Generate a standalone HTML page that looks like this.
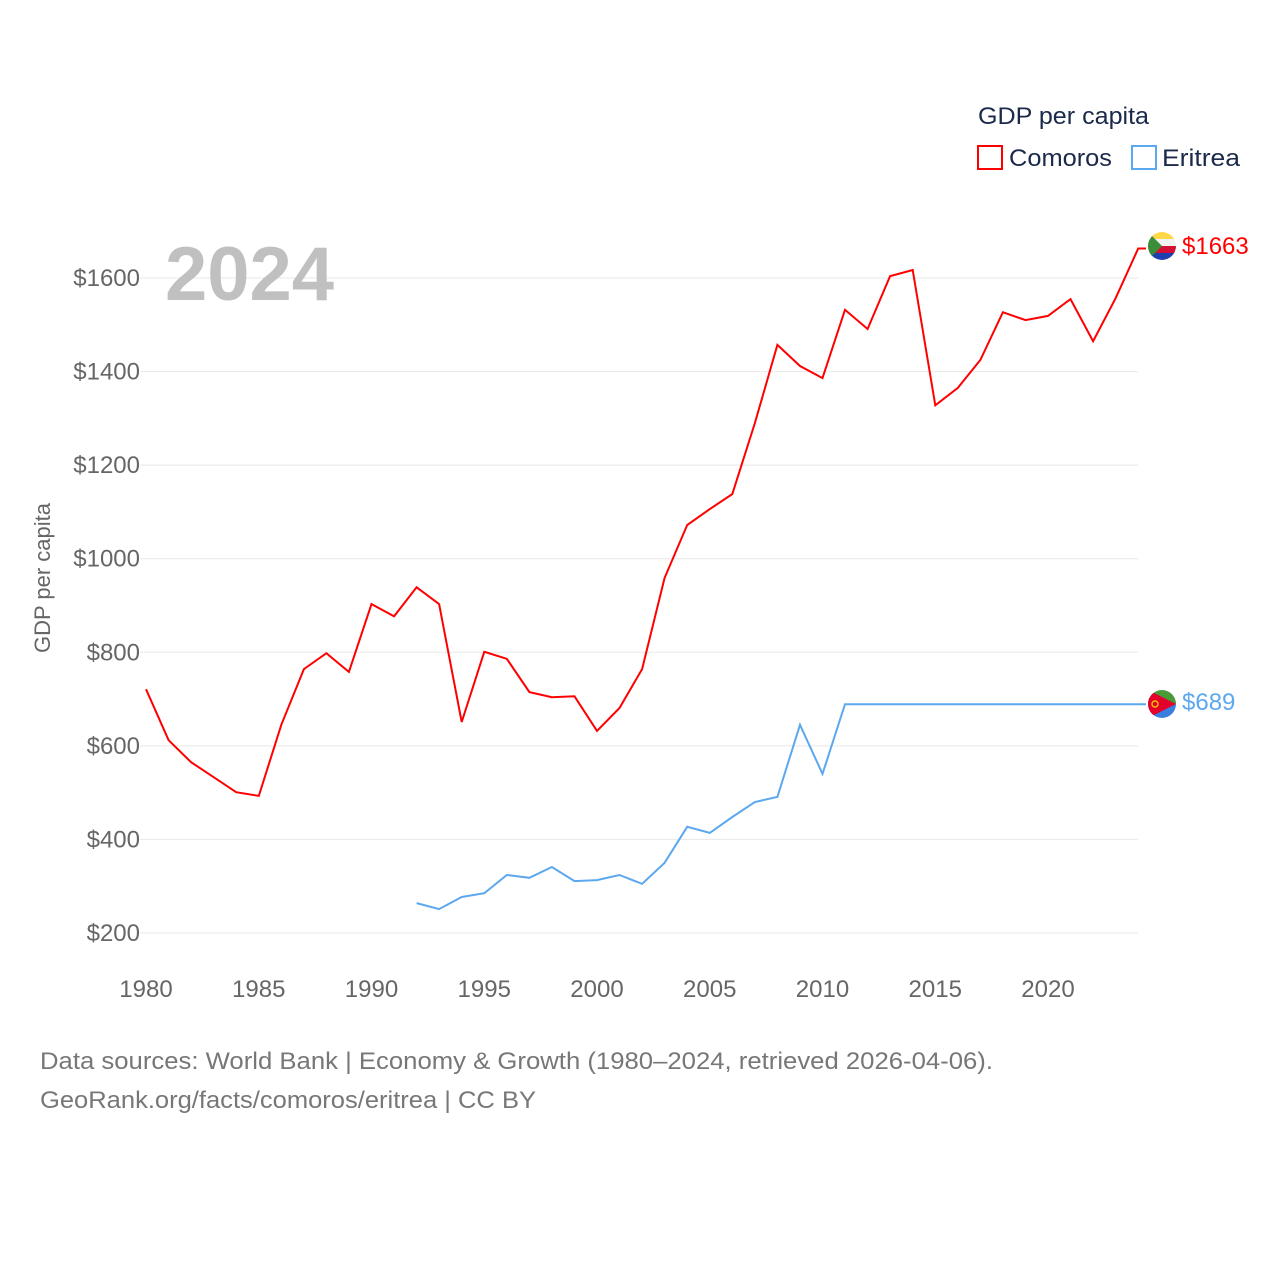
<!DOCTYPE html>
<html><head><meta charset="utf-8"><style>
body{margin:0;background:#fff;font-family:"Liberation Sans",sans-serif;}
</style></head><body>
<svg width="1280" height="1280" xmlns="http://www.w3.org/2000/svg" font-family="Liberation Sans, sans-serif">
<defs>
<clipPath id="c1"><circle cx="1162" cy="246" r="14"/></clipPath>
<clipPath id="c2"><circle cx="1162" cy="704" r="14"/></clipPath>
</defs>
<g id="grid"></g>
<g id="yt"></g>
<g id="xt"></g>
<text x="165" y="300" font-size="76" font-weight="bold" fill="#c0c0c0">2024</text>
<text transform="translate(50,578) rotate(-90)" text-anchor="middle" font-size="22" fill="#666">GDP per capita</text>
<path id="lc" fill="none" stroke="#f00" stroke-width="2"/>
<path id="le" fill="none" stroke="#5ca8ee" stroke-width="2"/>
<g clip-path="url(#c1)">
<rect x="1148" y="232" width="28" height="7" fill="#ffd84a"/><rect x="1148" y="239" width="28" height="7" fill="#f2f2f2"/>
<rect x="1148" y="246" width="28" height="7" fill="#d21034"/><rect x="1148" y="253" width="28" height="7" fill="#1d3fb0"/>
<polygon points="1148,232 1162,246 1148,260" fill="#3a8e3a"/></g>
<g clip-path="url(#c2)">
<rect x="1148" y="690" width="28" height="14" fill="#4a9a3a"/><rect x="1148" y="704" width="28" height="14" fill="#3a7fe0"/>
<polygon points="1148,690 1176,704 1148,718" fill="#e4002b"/><circle cx="1155" cy="704" r="3" fill="none" stroke="#f2c200" stroke-width="1.5"/></g>
<text id="vc" x="1182" y="254" font-size="24" fill="#f00">$1663</text>
<text id="ve" x="1182" y="710" font-size="24" fill="#5ca8ee">$689</text>
<g>
<text x="978" y="124" font-size="24" fill="#1b2a4a" textLength="171" lengthAdjust="spacingAndGlyphs">GDP per capita</text>
<rect x="978" y="146" width="24" height="23" fill="none" stroke="#f00" stroke-width="2"/>
<text x="1009" y="166" font-size="24" fill="#1b2a4a" textLength="103" lengthAdjust="spacingAndGlyphs">Comoros</text>
<rect x="1132" y="146" width="24" height="23" fill="none" stroke="#5ca8ee" stroke-width="2"/>
<text x="1162" y="166" font-size="24" fill="#1b2a4a" textLength="78" lengthAdjust="spacingAndGlyphs">Eritrea</text>
</g>
<text x="40" y="1069" font-size="24" fill="#777" textLength="953" lengthAdjust="spacingAndGlyphs">Data sources: World Bank | Economy &amp; Growth (1980–2024, retrieved 2026-04-06).</text>
<text x="40" y="1108" font-size="24" fill="#777" textLength="496" lengthAdjust="spacingAndGlyphs">GeoRank.org/facts/comoros/eritrea | CC BY</text>
</svg>
<script>
const yTicks=[200,400,600,800,1000,1200,1400,1600];
const xTicks=[1980,1985,1990,1995,2000,2005,2010,2015,2020];
const comorosStart=1980;
const comoros=[721,612,565,533,501,493,645,764,798,758,903,877,939,903,651,801,786,715,704,706,632,681,764,959,1072,1106,1138,1290,1457,1412,1386,1532,1491,1604,1617,1328,1365,1425,1527,1510,1519,1555,1465,1557,1663];
const eritreaStart=1992;
const eritrea=[264,251,277,285,324,318,341,311,313,324,305,350,427,414,448,480,491,645,540,689,689,689,689,689,689,689,689,689,689,689,689,689,689];
const X=y=>146+(y-1980)*(1048-146)/40;
const Y=v=>933-(v-200)*(933-278)/1400;
const ns="http://www.w3.org/2000/svg";
const g=document.getElementById('grid'),yt=document.getElementById('yt'),xt=document.getElementById('xt');
yTicks.forEach(v=>{
 const l=document.createElementNS(ns,'line');
 
 
 l.setAttribute('x1',140);l.setAttribute('x2',1138);l.setAttribute('y1',Y(v));l.setAttribute('y2',Y(v));
 l.setAttribute('stroke','#e8e8e8');l.setAttribute('stroke-width',1);g.appendChild(l);
 const t=document.createElementNS(ns,'text');
 
 
 t.setAttribute('x',140);t.setAttribute('y',Y(v)+8);t.setAttribute('text-anchor','end');
 t.setAttribute('font-size',24);t.setAttribute('fill','#666');t.textContent='$'+v;yt.appendChild(t);
});
xTicks.forEach(v=>{
 const t=document.createElementNS(ns,'text');
 
 
 t.setAttribute('x',X(v));t.setAttribute('y',997);t.setAttribute('text-anchor','middle');
 t.setAttribute('font-size',24);t.setAttribute('fill','#666');t.textContent=v;xt.appendChild(t);
});
function path(arr,start){let d='';arr.forEach((v,i)=>{d+=(i?'L':'M')+X(start+i).toFixed(1)+','+Y(v).toFixed(1);});
 d+='L1146,'+Y(arr[arr.length-1]).toFixed(1);return d;}
document.getElementById('lc').setAttribute('d',path(comoros,comorosStart));
document.getElementById('le').setAttribute('d',path(eritrea,eritreaStart));
document.getElementById('vc').textContent='$'+comoros[comoros.length-1];
document.getElementById('ve').textContent='$'+eritrea[eritrea.length-1];
</script>
</body></html>
